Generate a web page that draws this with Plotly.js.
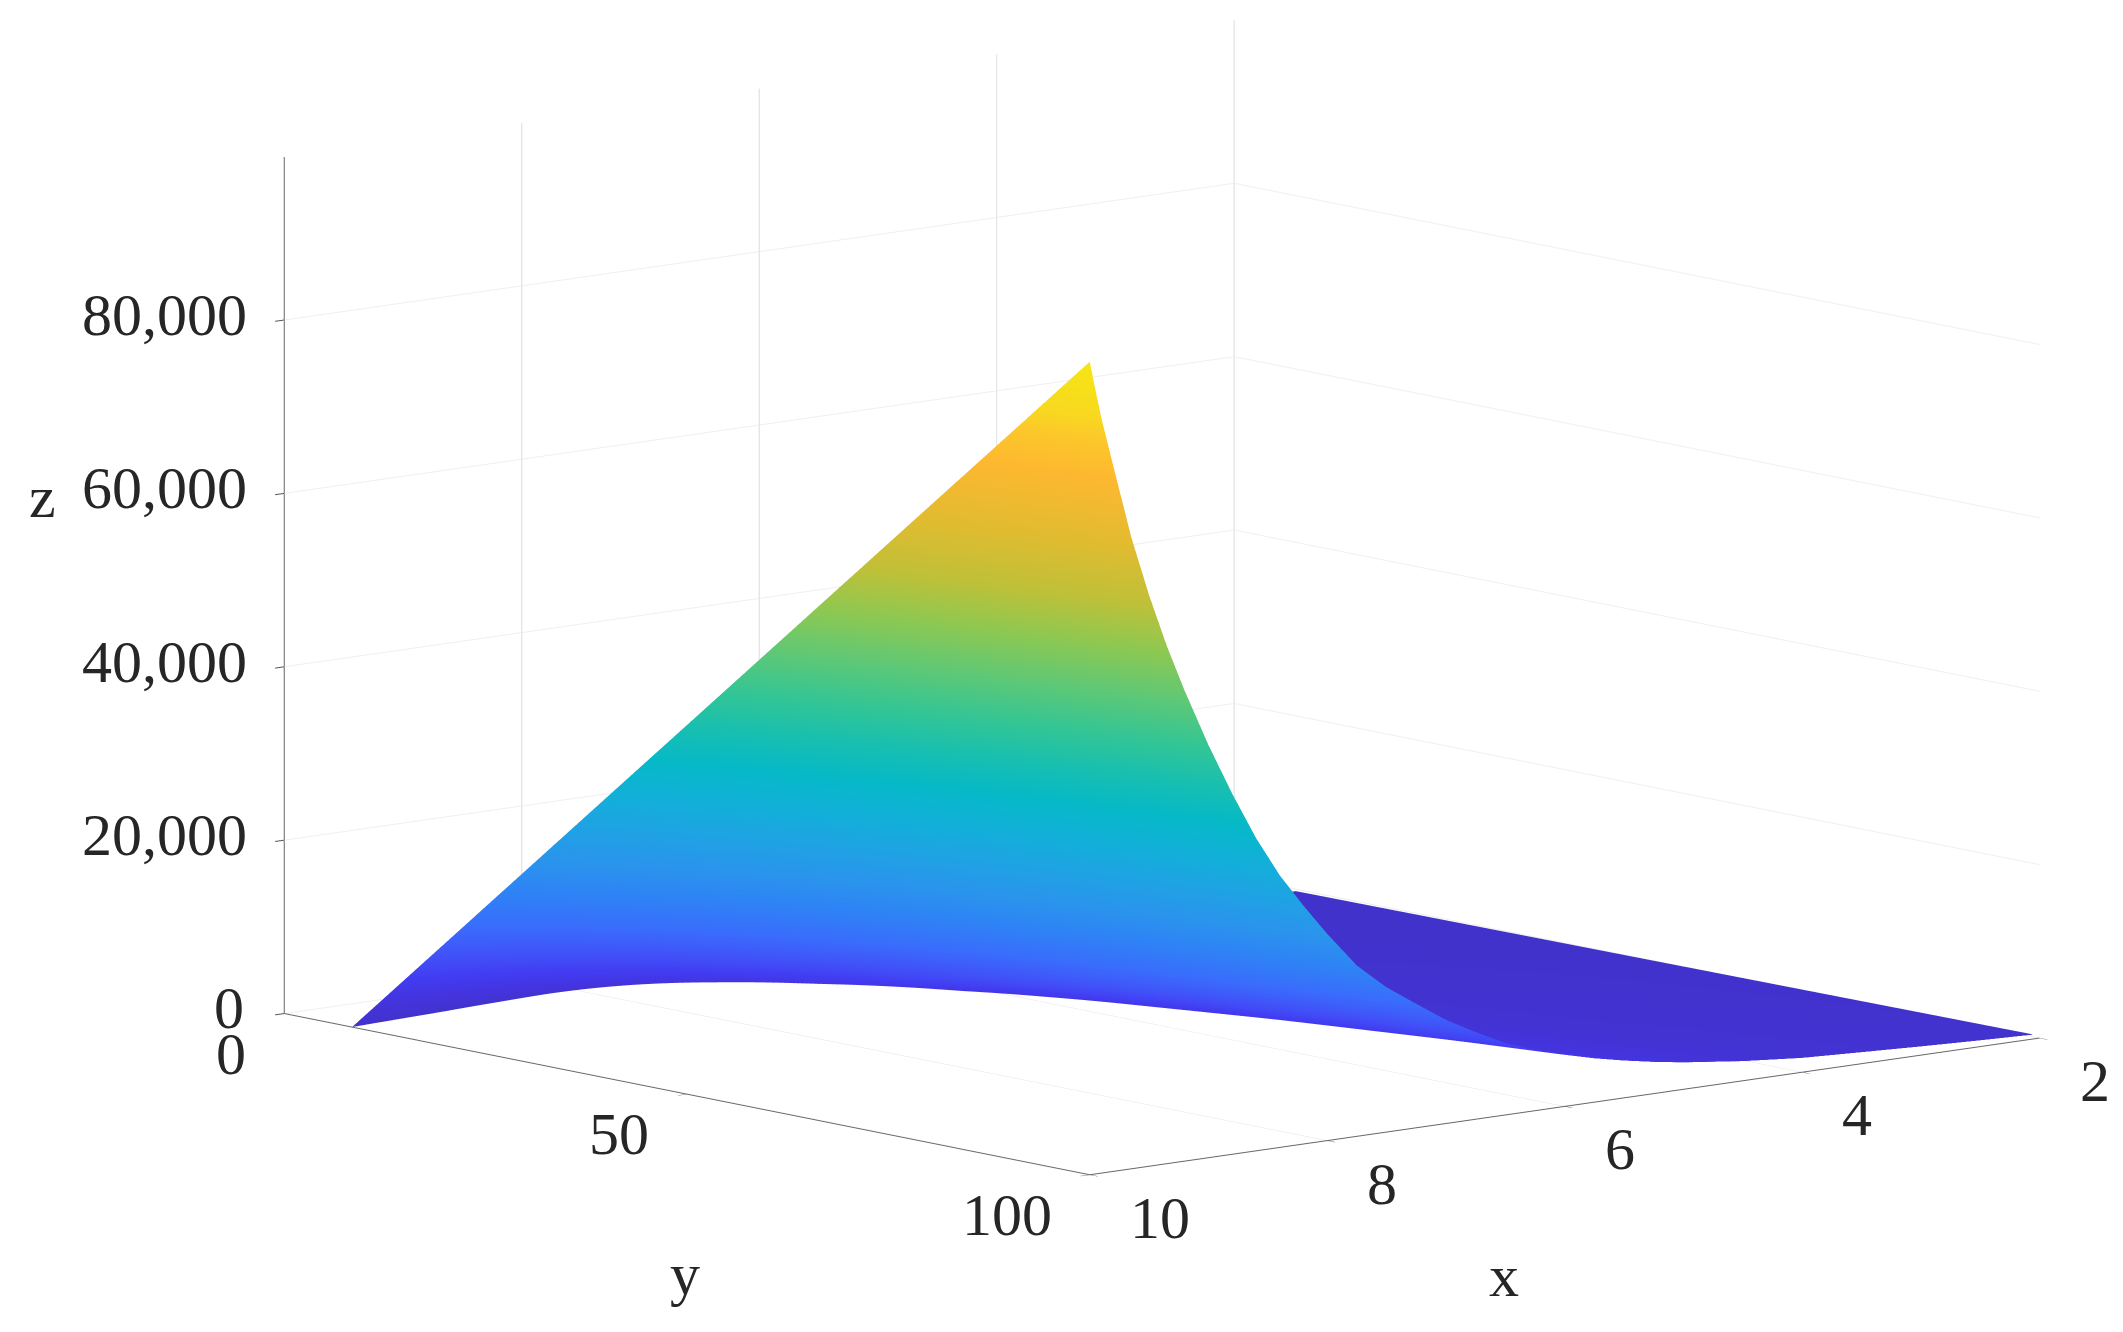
<!DOCTYPE html>
<html><head><meta charset="utf-8"><script src="https://cdn.plot.ly/plotly-3.0.1.min.js"></script>
<style>html,body{margin:0;padding:0;background:#fff}#c{width:2123px;height:1332px}</style></head>
<body><div id="c"></div><script>
const xValues=[2.05,2.5,3,3.5,4,4.5,5,5.25,5.5,5.75,6,6.25,6.5,6.75,7,7.25,7.5,7.75,8,8.2,8.4,8.6,8.8,9,9.2,9.35,9.5,9.65,9.8,9.9,9.95,10];
const yValues=[8.4,20,30,40,50,60,70,80,90,100];
const zRow1=[10,20,35,50,70,100,130,160,190,220,260,310,370,430,500,560,620,650,650,620,580,520,450,380,290,230,180,130,80,40,20,0];
const zRow2=[69,103,148,197,251,346,470,558,658,771,909,1072,1273,1530,1814,2146,2486,2884,3409,3854,4323,4882,5537,6254,7042,7695,8447,9302,10341,11038,11444,11875];
const zRow3=[120,174,243,321,403,553,757,893,1052,1235,1455,1713,2031,2456,2920,3484,4062,4775,5754,6609,7520,8616,9899,11300,12850,14121,15568,17206,19187,20523,21297,22118];
const zRow4=[173,248,345,455,569,780,1070,1259,1484,1742,2053,2415,2864,3467,4126,4934,5762,6797,8228,9488,10833,12455,14352,16422,18716,20593,22725,25137,28049,30015,31154,32361];
const zRow5=[227,327,454,599,749,1026,1408,1657,1953,2293,2702,3179,3769,4564,5431,6494,7583,8946,10830,12488,14259,16393,18891,21615,24635,27105,29912,33086,36918,39507,41005,42594];
const zRow6=[282,406,563,744,929,1273,1746,2056,2422,2845,3352,3943,4675,5661,6737,8055,9407,11097,13435,15491,17688,20335,23433,26813,30559,33623,37105,41042,45796,49007,50866,52837];
const zRow7=[336,484,673,888,1110,1520,2085,2455,2892,3396,4001,4708,5582,6759,8043,9617,11231,13248,16039,18494,21117,24277,27976,32011,36483,40142,44298,48998,54674,58508,60727,63081];
const zRow8=[391,563,782,1032,1290,1767,2423,2853,3361,3948,4651,5472,6488,7856,9349,11178,13054,15399,18644,21497,24545,28220,32519,37209,42407,46660,51491,56955,63552,68008,70588,73324];
const zRow9=[445,641,891,1176,1470,2013,2761,3251,3830,4499,5300,6236,7394,8953,10654,12738,14876,17549,21246,24497,27971,32158,37057,42402,48326,53172,58677,64904,72422,77500,80439,83557];
const zRow10=[500,720,1000,1320,1650,2260,3100,3650,4300,5050,5950,7000,8300,10050,11960,14300,16700,19700,23850,27500,31400,36100,41600,47600,54250,59690,65870,72860,81300,87000,90300,93800];
const zGrid=[zRow1,zRow2,zRow3,zRow4,zRow5,zRow6,zRow7,zRow8,zRow9,zRow10];
const xTicks=[2,4,6,8,10], yTicks=[0,50,100], zTicks=[0,20000,40000,60000,80000];
const parula=[[0,'#4232cc'],[.04,'#4334e0'],[.07,'#423cf2'],[.1,'#4150f8'],[.15,'#3a6cfc'],[.2,'#2f82f6'],[.25,'#2a95ec'],[.3,'#1ea3e3'],[.35,'#12b0d8'],[.4,'#06b9c8'],[.45,'#18bfb0'],[.5,'#32c596'],[.56,'#5cc878'],[.63,'#90c850'],[.69,'#bfc038'],[.77,'#e2bb30'],[.85,'#fdb830'],[.9,'#fcc82a'],[.93,'#f8d820'],[1,'#f6e514']];
const font={family:'Liberation Serif, serif',size:60,color:'#262626'};
const dir=[.6376,.7519,.1698], D=3, ctr=[.1264,-.0842,-.1013];
const ax=(r,tv,extra)=>Object.assign({title:{text:''},showticklabels:false,range:r,tickmode:'array',tickvals:tv,showspikes:false,showbackground:false,zeroline:false,showline:true,linecolor:'#666666',linewidth:2,ticks:'outside',ticklen:12,tickcolor:'#555555',tickwidth:2,showgrid:true,gridcolor:'#dcdcdc',gridwidth:2},extra||{});
const note=(x,y,z,text,xanchor,xshift,yshift)=>({x,y,z,text,xanchor,yanchor:'middle',xshift,yshift,showarrow:false,font});
const notes=[
 ...xTicks.map(v=>note(v,100,0,String(v),'left',38,-43)),
 ...yTicks.map(v=>note(10,v,0,String(v),'right',-36,-40)),
 ...zTicks.map(v=>note(10,0,v,v.toLocaleString('en-US'),'right',v===0?-38:-35,v===0?6:5)),
 note(6,100,0,'x','center',-61,-170),
 note(10,50,0,'y','center',-2,-180),
 note(10,0,60000,'z','center',-242,-4)];
Plotly.newPlot('c',[{type:'surface',x:xValues,y:yValues,z:zGrid,colorscale:parula,cmin:0,cmax:93800,showscale:false,lighting:{ambient:1,diffuse:0,specular:0,roughness:1,fresnel:0},hoverinfo:'skip'}],{
 width:2123,height:1332,margin:{l:0,r:0,t:0,b:0},paper_bgcolor:'#fff',showlegend:false,
 scene:{domain:{x:[0,1],y:[0,1]},aspectmode:'manual',aspectratio:{x:1.87,y:1.87,z:1.305},annotations:notes,
  camera:{projection:{type:'orthographic'},up:{x:0,y:0,z:1},center:{x:ctr[0],y:ctr[1],z:ctr[2]},eye:{x:ctr[0]+dir[0]*D,y:ctr[1]+dir[1]*D,z:ctr[2]+dir[2]*D}},
  xaxis:ax([2,10],xTicks),
  yaxis:ax([0,100],yTicks,{showgrid:false}),
  zaxis:ax([0,98800],zTicks,{gridcolor:'#efefef'})}
},{displayModeBar:false});
</script></body></html>
